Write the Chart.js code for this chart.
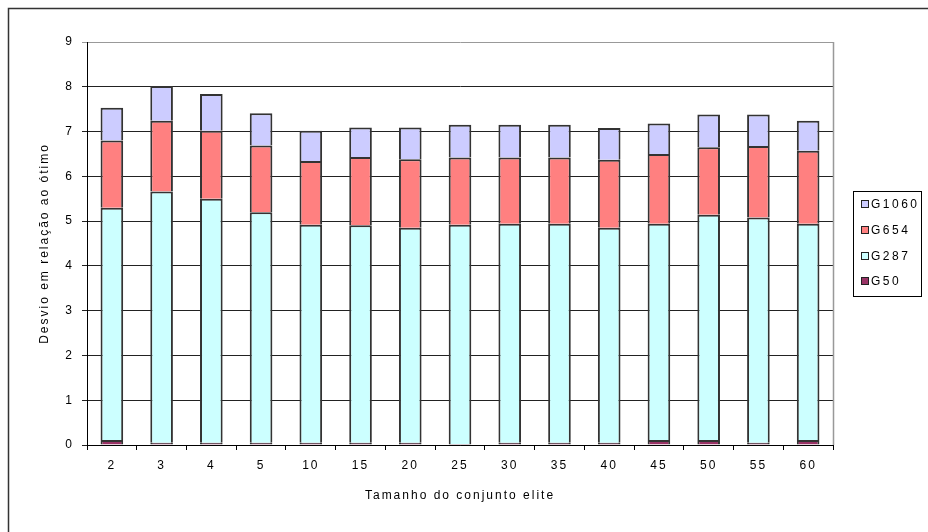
<!DOCTYPE html>
<html>
<head>
<meta charset="utf-8">
<script src="https://cdn.jsdelivr.net/npm/chart.js@4/dist/chart.umd.min.js"></script>
<style>
  html, body { margin: 0; padding: 0; background: #fff; }
  #wrap { width: 928px; height: 532px; position: relative; }
</style>
</head>
<body>
<div id="wrap"><canvas id="c" width="928" height="532"></canvas></div>
<script>
// Elite set sizes on the x axis
const categories = ['2', '3', '4', '5', '10', '15', '20', '25', '30', '35', '40', '45', '50', '55', '60'];

// Deviation from the optimum, per instance (stacked)
const g50   = [0.11, 0.05, 0.05, 0.05, 0.05, 0.05, 0.05, 0.02, 0.05, 0.05, 0.05, 0.11, 0.11, 0.05, 0.11];
const g287  = [5.19, 5.61, 5.45, 5.15, 4.87, 4.86, 4.80, 4.90, 4.89, 4.89, 4.80, 4.83, 5.03, 5.03, 4.83];
const g654  = [1.50, 1.58, 1.52, 1.49, 1.42, 1.52, 1.53, 1.50, 1.48, 1.48, 1.52, 1.56, 1.51, 1.60, 1.63];
const g1060 = [0.73, 0.78, 0.82, 0.72, 0.68, 0.66, 0.71, 0.73, 0.73, 0.73, 0.71, 0.68, 0.73, 0.70, 0.67];

const yTicks = [0, 1, 2, 3, 4, 5, 6, 7, 8, 9];

const FONT = '"Liberation Sans", Arial, sans-serif';

// Outer frame, plot border, wide text spacing and the boxed legend
const decorations = {
  id: 'decorations',
  beforeDraw(chart) {
    const ctx = chart.ctx;
    ctx.save();
    ctx.fillStyle = '#fff';
    ctx.fillRect(0, 0, chart.width, chart.height);
    ctx.restore();
    ctx.letterSpacing = '2px';
  },
  afterDraw(chart) {
    const ctx = chart.ctx;
    const a = chart.chartArea;
    ctx.save();
    // outer frame (left and top)
    ctx.strokeStyle = '#333';
    ctx.lineWidth = 1.5;
    ctx.beginPath();
    ctx.moveTo(8.5, chart.height);
    ctx.lineTo(8.5, 8.5);
    ctx.lineTo(chart.width, 8.5);
    ctx.stroke();
    // plot area right border
    ctx.strokeStyle = '#999';
    ctx.lineWidth = 1.5;
    ctx.beginPath();
    ctx.moveTo(Math.round(a.right) + 0.5, a.top);
    ctx.lineTo(Math.round(a.right) + 0.5, a.bottom);
    ctx.stroke();

    // legend box
    const bx = 853.5, by = 191.5, bw = 68, bh = 105;
    ctx.strokeStyle = '#000';
    ctx.lineWidth = 1;
    ctx.strokeRect(bx, by, bw, bh);
    const items = chart.data.datasets.slice().reverse();
    const rowY = [204, 230, 256, 281];
    ctx.font = '12px ' + FONT;
    ctx.letterSpacing = '2.5px';
    ctx.textBaseline = 'middle';
    ctx.textAlign = 'left';
    items.forEach((ds, i) => {
      const y = rowY[i];
      ctx.fillStyle = ds.backgroundColor;
      ctx.fillRect(862, y - 3, 7, 7);
      ctx.strokeStyle = '#222';
      ctx.strokeRect(861.5, y - 3.5, 7, 7);
      ctx.fillStyle = '#000';
      ctx.fillText(ds.label, 871, y + 1);
    });
    ctx.restore();
  }
};

const mk = (label, data, color) => ({
  label, data,
  backgroundColor: color,
  borderColor: '#333',
  borderWidth: 2,
  borderSkipped: 'start',
  categoryPercentage: 1,
  barPercentage: 0.455
});

new Chart(document.getElementById('c'), {
  type: 'bar',
  data: {
    labels: categories,
    datasets: [
      mk('G50', g50, '#993366'),
      mk('G287', g287, '#CCFFFF'),
      mk('G654', g654, '#FF8080'),
      mk('G1060', g1060, '#CCCCFF')
    ]
  },
  options: {
    responsive: false,
    animation: false,
    devicePixelRatio: 1,
    layout: { padding: { left: 0, top: 42, right: 95, bottom: 0 } },
    plugins: { legend: { display: false }, tooltip: { enabled: false } },
    scales: {
      x: {
        stacked: true,
        afterFit(s) { s.height = 87; },
        grid: { drawOnChartArea: false, drawTicks: true, tickLength: 5, color: '#000', offset: true },
        border: { display: true, color: '#000', width: 1 },
        ticks: { color: '#000', font: { family: FONT, size: 12 }, padding: 8, maxRotation: 0 },
        title: { display: true, text: 'Tamanho do conjunto elite', color: '#000',
                 font: { family: FONT, size: 12 }, padding: { top: 0, bottom: 29 } }
      },
      y: {
        stacked: true,
        min: 0, max: 9,
        afterFit(s) { s.width = 87; },
        afterBuildTicks(s) { s.ticks = yTicks.map(v => ({ value: v })); },
        grid: {
          drawTicks: true, tickLength: 5, lineWidth: 1,
          color: c => (c.tick && c.tick.value === 9 ? '#999' : '#222')
        },
        border: { display: true, color: '#000', width: 1 },
        ticks: { color: '#000', font: { family: FONT, size: 12 }, padding: 8 },
        title: { display: true, text: 'Desvio em relação ao ótimo', color: '#000',
                 font: { family: FONT, size: 12 }, padding: { top: 37, bottom: 0 } }
      }
    }
  },
  plugins: [decorations]
});
</script>
</body>
</html>
